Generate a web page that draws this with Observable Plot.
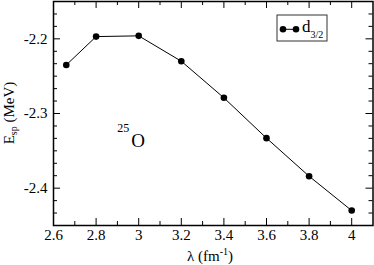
<!DOCTYPE html>
<html><head><meta charset="utf-8">
<script src="https://cdn.jsdelivr.net/npm/d3@7"></script>
<script src="https://cdn.jsdelivr.net/npm/@observablehq/plot@0.6"></script>
<style>body{margin:0;background:#fff}#chart{width:374px;height:265px}</style>
</head><body><div id="chart"></div>
<script>
// Data
const lambda = [2.66, 2.8, 3.0, 3.2, 3.4, 3.6, 3.8, 4.0];
const energy = [-2.235, -2.197, -2.196, -2.230, -2.279, -2.333, -2.384, -2.430];
const seriesName = "d";
const seriesSub = "3/2";
const xTicks = [2.6, 2.8, 3, 3.2, 3.4, 3.6, 3.8, 4];
const xMinor = [2.7, 2.9, 3.1, 3.3, 3.5, 3.7, 3.9];
const yTicks = [-2.4, -2.3, -2.2];
const yMinor = [-2.4333, -2.4167, -2.3833, -2.3667, -2.35, -2.3333, -2.3167,
                -2.2833, -2.2667, -2.25, -2.2333, -2.2167, -2.1833, -2.1667];
const annotation = [{x: 2.965, y: -2.337, sup: "25", base: "O"}];

const data = lambda.map((l, i) => ({lambda: l, energy: energy[i]}));

const W = 374, H = 265, mL = 53, mR = 1.5, mT = 1, mB = 40;
const pw = W - mL - mR, ph = H - mT - mB;
const major = 7, minor = 4;
const ff = "Liberation Serif";

const svg = Plot.plot({
  width: W, height: H,
  marginLeft: mL, marginRight: mR, marginTop: mT, marginBottom: mB,
  x: {domain: [2.6, 4.1], axis: null},
  y: {domain: [-2.45, -2.15], axis: null},
  marks: [
    Plot.tickX(xTicks, {x: d => d, insetTop: ph - major, stroke: "black"}),
    Plot.tickX(xMinor, {x: d => d, insetTop: ph - minor, stroke: "black"}),
    Plot.tickX(xTicks, {x: d => d, insetBottom: ph - major, stroke: "black"}),
    Plot.tickX(xMinor, {x: d => d, insetBottom: ph - minor, stroke: "black"}),
    Plot.tickY(yTicks, {y: d => d, insetRight: pw - major, stroke: "black"}),
    Plot.tickY(yMinor, {y: d => d, insetRight: pw - minor, stroke: "black"}),
    Plot.tickY(yTicks, {y: d => d, insetLeft: pw - major, stroke: "black"}),
    Plot.tickY(yMinor, {y: d => d, insetLeft: pw - minor, stroke: "black"}),
    Plot.text(xTicks, {x: d => d, frameAnchor: "bottom", lineAnchor: "top", dy: 4, text: d => String(d),
      fontSize: 15, fontFamily: ff, fill: "black"}),
    Plot.text(yTicks, {y: d => d, frameAnchor: "left", textAnchor: "end", dx: -6, text: d => String(d),
      fontSize: 15, fontFamily: ff, fill: "black"}),
    Plot.frame({stroke: "black", strokeWidth: 1.5}),
    Plot.line(data, {x: "lambda", y: "energy", stroke: "black", strokeWidth: 1}),
    Plot.dot(data, {x: "lambda", y: "energy", r: 3.3, fill: "black", stroke: "none"}),
    Plot.text(annotation, {x: "x", y: "y", text: "base", fontSize: 19, fontFamily: ff, textAnchor: "start"}),
    Plot.text(annotation, {x: "x", y: "y", text: "sup", fontSize: 12, fontFamily: ff, textAnchor: "end", dx: -2, dy: -12.7})
  ]
});

const s = d3.select(svg).attr("font-family", ff).style("font-family", ff);
function txt(sel) {
  return sel.append("text").attr("font-family", ff).style("font-family", ff).attr("fill", "black");
}
// y-axis label
const yl = txt(s).attr("transform", "translate(13.5,113) rotate(-90)")
  .attr("text-anchor", "middle").attr("font-size", 15);
yl.append("tspan").text("E");
yl.append("tspan").attr("font-size", 10).attr("dy", 3).text("sp");
yl.append("tspan").attr("dy", -3).text(" (MeV)");
// x-axis label
const xl = txt(s).attr("x", 187).attr("y", 260.5).attr("text-anchor", "start").attr("font-size", 15);
xl.append("tspan").text("λ (fm");
xl.append("tspan").attr("font-size", 10).attr("dy", -6).text("-1");
xl.append("tspan").attr("dy", 6).text(")");
// legend
const lg = s.append("g");
lg.append("rect").attr("x", 277).attr("y", 15).attr("width", 50).attr("height", 26)
  .attr("fill", "white").attr("stroke", "#333").attr("stroke-width", 1);
lg.append("line").attr("x1", 283).attr("x2", 296).attr("y1", 29.3).attr("y2", 29.3).attr("stroke", "black");
lg.selectAll("circle").data([283, 296]).join("circle").attr("cx", d => d).attr("cy", 29.3).attr("r", 3.3).attr("fill", "black");
const lt = txt(lg).attr("x", 302).attr("y", 31.5).attr("text-anchor", "start").attr("font-size", 17);
lt.append("tspan").text(seriesName);
lt.append("tspan").attr("font-size", 10).attr("dy", 6).text(seriesSub);

document.getElementById("chart").append(svg);
</script></body></html>
